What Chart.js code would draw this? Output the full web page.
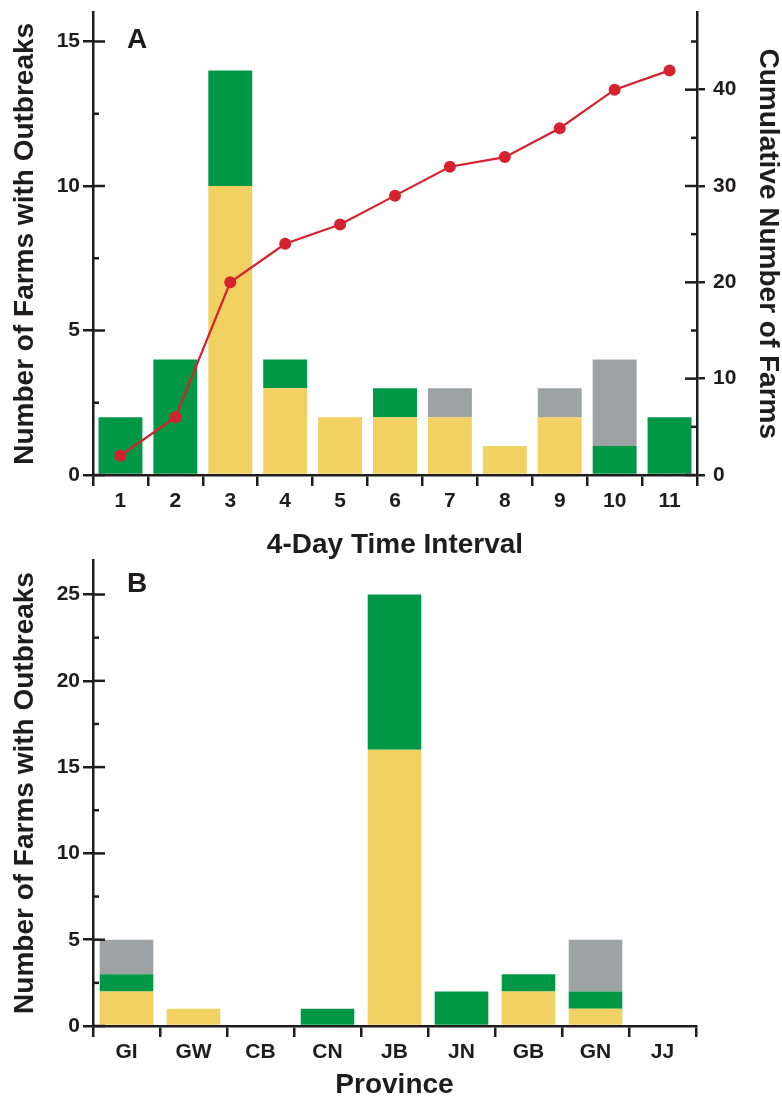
<!DOCTYPE html>
<html>
<head>
<meta charset="utf-8">
<script src="https://cdn.jsdelivr.net/npm/chart.js@4.4.1/dist/chart.umd.min.js"></script>
<style>
  body { margin: 0; background: #fff; overflow: hidden; }
  canvas { position: absolute; left: 0; }
  #chartA { top: -8px; }
  #chartB { top: 540px; }
</style>
</head>
<body>
<canvas id="chartA" width="782" height="568"></canvas>
<canvas id="chartB" width="782" height="565"></canvas>
<script>
// Panel A: outbreaks per 4-day interval
const intervals = ['1', '2', '3', '4', '5', '6', '7', '8', '9', '10', '11'];
const aYellow = [0, 0, 10, 3, 2, 2, 2, 1, 2, 0, 0];
const aGreen = [2, 4, 4, 1, 0, 1, 0, 0, 0, 1, 2];
const aGray = [0, 0, 0, 0, 0, 0, 1, 0, 1, 3, 0];
const aCumulative = [2, 6, 20, 24, 26, 29, 32, 33, 36, 40, 42];

// Panel B: outbreaks per province
const provinces = ['GI', 'GW', 'CB', 'CN', 'JB', 'JN', 'GB', 'GN', 'JJ'];
const bYellow = [2, 1, 0, 0, 16, 0, 2, 1, 0];
const bGreen = [1, 0, 0, 1, 9, 2, 1, 1, 0];
const bGray = [2, 0, 0, 0, 0, 0, 0, 3, 0];

const YELLOW = '#f1d162';
const GREEN = '#009846';
const GRAY = '#9da2a5';
const RED = '#d6222f';
const INK = '#1e1c1d';
const FAMILY = '"Liberation Sans", Arial, Helvetica, sans-serif';

Chart.defaults.font.family = FAMILY;
Chart.defaults.color = INK;
Chart.defaults.animation = false;

const tickFont = { size: 21, weight: 'bold' };
const titleFont = { size: 28, weight: 'bold', lineHeight: 1 };

// inner halves of major ticks + minor ticks on the y axes, and panel letter
const innerTicks = {
  id: 'innerTicks',
  afterDraw(chart, args, opts) {
    const ctx = chart.ctx;
    ctx.save();
    ctx.strokeStyle = INK;
    ctx.lineWidth = 2.5;
    for (const a of opts.axes || []) {
      const s = chart.scales[a.id];
      const left = s.position === 'left';
      const x0 = left ? s.right : s.left;
      const dir = left ? 1 : -1;
      for (let v = 0; v <= s.max + 1e-9; v += a.minor) {
        const y = s.getPixelForValue(v);
        const len = (Math.round(v * 10) % Math.round(a.major * 10) === 0) ? 12 : 6;
        ctx.beginPath();
        ctx.moveTo(x0, y);
        ctx.lineTo(x0 + dir * len, y);
        ctx.stroke();
      }
    }
    if (opts.panel) {
      ctx.fillStyle = INK;
      ctx.font = 'bold 28px ' + FAMILY;
      ctx.textAlign = 'left';
      ctx.textBaseline = 'middle';
      ctx.fillText(opts.panel, chart.chartArea.left + 34, chart.chartArea.top + opts.panelY);
    }
    ctx.restore();
  }
};

const keepMultiples = (step) => (scale) => {
  scale.ticks = scale.ticks.filter(t => Math.abs(t.value / step - Math.round(t.value / step)) < 1e-6);
};

function xAxis(titleText, height, titlePad) {
  return {
    stacked: true,
    offset: true,
    grid: { display: true, drawOnChartArea: false, offset: true, tickLength: 11, color: INK, lineWidth: 2.5 },
    border: { display: true, color: INK, width: 2.5 },
    ticks: { font: tickFont, color: INK, padding: 3, maxRotation: 0 },
    title: { display: true, text: titleText, font: titleFont, color: INK, padding: { top: 0, bottom: titlePad } },
    afterFit(s) { s.height = height; }
  };
}

function leftAxis(max, step) {
  return {
    position: 'left',
    stacked: true,
    min: 0,
    max: max,
    grid: { display: true, drawOnChartArea: false, tickLength: 10, color: INK, lineWidth: 2.5 },
    border: { display: true, color: INK, width: 2.5 },
    ticks: { stepSize: step, font: tickFont, color: INK, padding: 3 },
    afterBuildTicks: keepMultiples(step),
    title: { display: true, text: 'Number of Farms with Outbreaks', font: titleFont, color: INK, padding: { top: 11, bottom: 0 } },
    afterFit(s) { s.width = 93; }
  };
}

function barSets(yellow, green, gray) {
  return [
    { label: 'yellow', data: yellow, backgroundColor: YELLOW, order: 2 },
    { label: 'green', data: green, backgroundColor: GREEN, order: 2 },
    { label: 'gray', data: gray, backgroundColor: GRAY, order: 2 }
  ].map(d => Object.assign(d, { type: 'bar', borderWidth: 0, barPercentage: 0.8, categoryPercentage: 1, yAxisID: 'y' }));
}

new Chart(document.getElementById('chartA'), {
  data: {
    labels: intervals,
    datasets: [
      {
        type: 'line',
        label: 'Cumulative',
        data: aCumulative,
        yAxisID: 'y2',
        borderColor: RED,
        backgroundColor: RED,
        borderWidth: 2.2,
        pointRadius: 6,
        pointBackgroundColor: RED,
        pointBorderWidth: 0,
        tension: 0,
        order: 0
      },
      ...barSets(aYellow, aGreen, aGray)
    ]
  },
  options: {
    responsive: false,
    layout: { padding: { top: 10, left: 0, right: 0, bottom: 0 } },
    plugins: {
      legend: { display: false },
      tooltip: { enabled: false },
      innerTicks: { panel: 'A', panelY: 28, axes: [{ id: 'y', major: 5, minor: 2.5 }, { id: 'y2', major: 10, minor: 5 }] }
    },
    scales: {
      x: xAxis('4-Day Time Interval', 85, 1),
      y: leftAxis(16, 5),
      y2: {
        position: 'right',
        min: 0,
        max: 48,
        grid: { display: true, drawOnChartArea: false, tickLength: 8, color: INK, lineWidth: 2.5 },
        border: { display: true, color: INK, width: 2.5 },
        ticks: { stepSize: 10, font: tickFont, color: INK, padding: 8 },
        afterBuildTicks: keepMultiples(10),
        title: { display: true, text: 'Cumulative Number of Farms', font: titleFont, color: INK, padding: { top: 0, bottom: 0 } },
        afterFit(s) { s.width = 85; }
      }
    }
  },
  plugins: [innerTicks]
});

new Chart(document.getElementById('chartB'), {
  data: {
    labels: provinces,
    datasets: barSets(bYellow, bGreen, bGray)
  },
  options: {
    responsive: false,
    layout: { padding: { top: 20, left: 0, right: 86, bottom: 0 } },
    plugins: {
      legend: { display: false },
      tooltip: { enabled: false },
      innerTicks: { panel: 'B', panelY: 24, axes: [{ id: 'y', major: 5, minor: 2.5 }] }
    },
    scales: {
      x: xAxis('Province', 79, 6),
      y: leftAxis(27, 5)
    }
  },
  plugins: [innerTicks]
});
</script>
</body>
</html>
